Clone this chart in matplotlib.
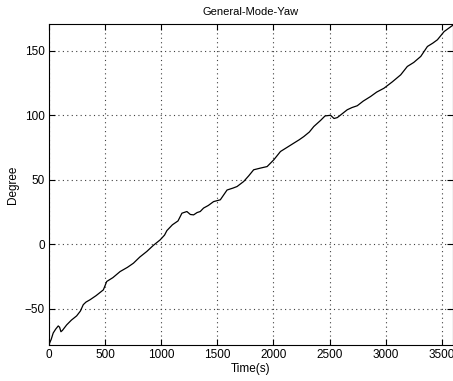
import matplotlib
matplotlib.use('Agg')
import matplotlib.pyplot as plt
import numpy as np

# 数据
time_s = [0, 20, 38, 60, 83, 95, 107, 120, 158, 200, 247, 280, 306, 330, 366, 420,
          485, 515, 570, 634, 700, 753, 810, 872, 930, 991, 1030, 1051, 1100, 1150,
          1185, 1229, 1260, 1289, 1320, 1348, 1378, 1420, 1467, 1527, 1587, 1640,
          1676, 1735, 1780, 1824, 1884, 1944, 2003, 2063, 2120, 2182, 2230, 2271,
          2320, 2360, 2420, 2460, 2509, 2540, 2569, 2610, 2658, 2700, 2747, 2800,
          2866, 2920, 2985, 3060, 3134, 3193, 3250, 3313, 3372, 3420, 3461, 3521, 3600]
yaw_deg = [-78, -74, -69, -66, -63.5, -64.5, -68, -67, -62.7, -59, -55.7, -52, -47,
           -45, -43.2, -40, -35.5, -29, -26, -21.3, -18, -14.8, -10, -5.7, -1, 3.3,
           7, 10.5, 15, 18, 24, 25.3, 23, 22.7, 24.5, 25.3, 28, 30, 33, 34.4, 42,
           43.5, 44.7, 48.6, 53, 57.7, 59, 60.2, 65.4, 71.9, 75, 78.4, 81, 83.5, 87,
           91.3, 96, 99.5, 100, 97.5, 98.2, 101, 104.3, 106, 107.4, 111, 114.6, 118,
           121, 126, 131.4, 137.9, 141, 145.7, 153.4, 156, 158.6, 165, 170]
x_ticks = [0, 500, 1000, 1500, 2000, 2500, 3000, 3500]
y_ticks = [-50, 0, 50, 100, 150]

plt.rcParams['font.family'] = ['Liberation Sans', 'DejaVu Sans']

fig = plt.figure(figsize=(4.53, 3.81), dpi=100)
ax = fig.add_axes([0.108, 0.0945, 0.892, 0.843])

ax.plot(time_s, yaw_deg, color='black', lw=0.9)

ax.set_xlim(0, 3600)
ax.set_ylim(-78.3, 171)
ax.set_xticks(x_ticks)
ax.set_yticks(y_ticks)
ax.tick_params(direction='in', length=4, labelsize=8.5, top=True, right=True, pad=3)
# MATLAB风格的点状网格
ax.grid(True, linestyle=(0, (1, 3)), color='0.25', lw=0.8)

ax.set_title('General-Mode-Yaw', fontsize=8, pad=6)
ax.set_xlabel('Time(s)', fontsize=8.5, labelpad=1)
ax.set_ylabel('Degree', fontsize=8.5, labelpad=4)

fig.savefig('out.png', dpi=100)
